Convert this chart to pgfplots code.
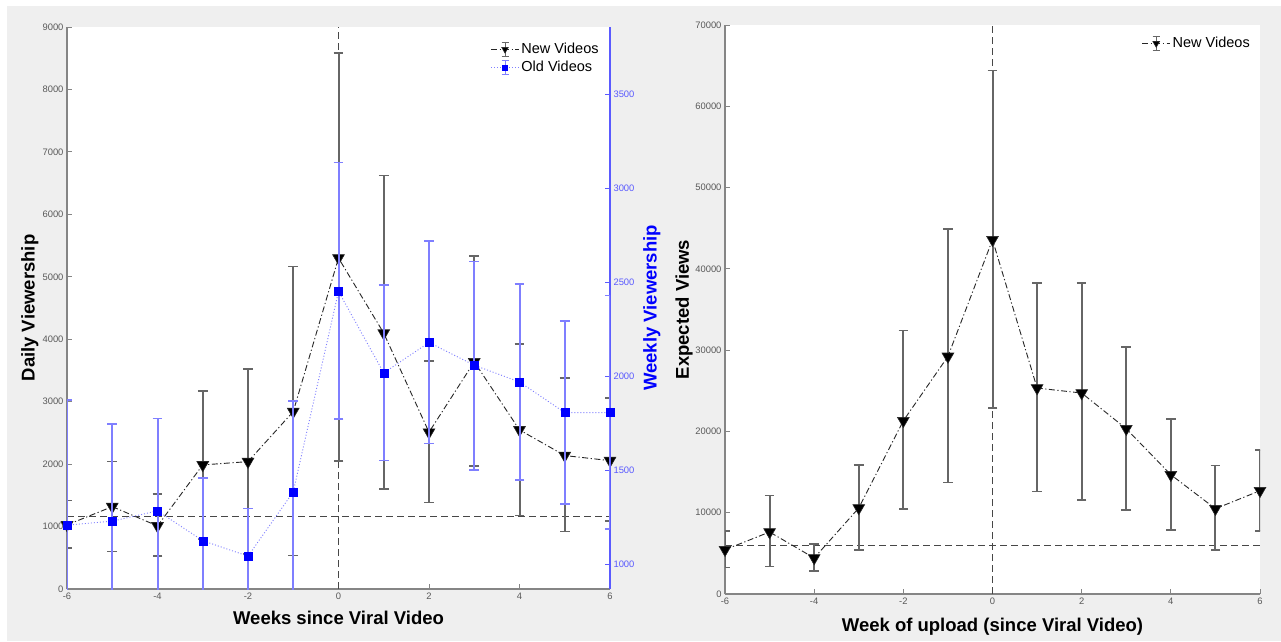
\documentclass[border=0pt]{standalone}
\usepackage{fontspec}
\setmainfont{Liberation Sans}
\usepackage{pgfplots}
\pgfplotsset{compat=1.18}
\usepackage{pgfplotstable}

\definecolor{bg}{HTML}{EFEFEF}
\definecolor{axgray}{HTML}{858585}
\definecolor{ebgray}{HTML}{666666}
\definecolor{lblue}{HTML}{7F7FFF}
\definecolor{tblue}{HTML}{5A5AFF}

% new videos, daily viewership (left axis)
\pgfplotstableread{
x  y    ep   em
-6 1026 389  374
-5 1319 721  721
-4 1010 512  481
-3 1987 1186 1186
-2 2040 1481 1481
-1 2841 2324 2307
0  5300 3285 3249
1  4097 2522 2499
2  2511 1143 1128
3  3638 1699 1667
4  2548 1378 1373
5  2137 1239 1219
6  2056 1000 966
}\newdaily

% old videos, weekly viewership (right axis)
\pgfplotstableread{
x  y    ep  em
-6 1209 665 665
-5 1230 516 516
-4 1285 492 492
-3 1126 335 335
-2 1044 254 254
-1 1386 484 550
0  2453 685 680
1  2019 467 466
2  2181 539 537
3  2060 553 558
4  1971 520 523
5  1808 488 487
6  1808 623 620
}\oldweekly

% expected views by week of upload
\pgfplotstableread{
x  y     ep    em
-6 5449  2337  2174
-5 7626  4502  4228
-4 4428  1759  1562
-3 10578 5326  5129
-2 21316 11107 10861
-1 29225 15670 15498
0  43579 20825 20701
1  25338 12915 12718
2  24723 13530 13124
3  20332 10049 9963
4  14674 6851  6765
5  10492 5326  5043
6  12706 5043  4920
}\expviews

\tikzset{
  newv/.style={black!85, line width=0.9pt,
    dash pattern=on 6pt off 2.5pt on 1.2pt off 2.5pt,
    mark=triangle*, mark size=6.8pt,
    mark options={solid, rotate=180, fill=black, line width=0.6pt}},
  oldv/.style={lblue, line width=0.9pt, dash pattern=on 1pt off 2pt,
    mark=square*, mark size=4pt,
    mark options={solid, fill=blue, draw=blue, line width=0.4pt}},
  refl/.style={black!72, line width=1.5pt, dash pattern=on 7pt off 4pt},
}

\pgfplotsset{
  panel/.style={
    scale only axis, anchor=south west,
    xmin=-6, xmax=6, xtick={-6,-4,...,6},
    axis x line*=bottom, axis y line*=left,
    axis line style={-, axgray, line width=1.2pt},
    tick align=inside, major tick length=5pt,
    tick style={axgray, line width=1pt},
    tick label style={font=\fontsize{9.4}{11}\selectfont, text=black!65},
    /pgf/number format/assume math mode=true,
    /pgf/number format/1000 sep={},
    scaled y ticks=false,
    label style={font=\fontsize{18.5}{22}\selectfont\bfseries, inner sep=0pt},
  },
  blackbars/.style={error bars/.cd, y dir=both, y explicit,
    error bar style={solid, ebgray, line width=2pt},
    error mark options={solid, rotate=90, ebgray, line width=1.6pt, mark size=4.8pt}},
  bluebars/.style={error bars/.cd, y dir=both, y explicit,
    error bar style={solid, lblue, line width=2pt},
    error mark options={solid, rotate=90, lblue, line width=1.6pt, mark size=4.8pt}},
}

\begin{document}
\begin{tikzpicture}
\useasboundingbox (0pt,0pt) rectangle (1281pt,641pt);
\fill[white] (0pt,0pt) rectangle (1281pt,641pt);
\fill[bg] (7pt,0pt) rectangle (1281pt,635pt);

% ---------- left panel, daily viewership ----------
\begin{axis}[panel,
  at={(67pt,52pt)}, width=543pt, height=562pt,
  ymin=0, ymax=9000, ytick={0,1000,...,9000},
  axis background/.style={fill=white},
  xlabel={Weeks since Viral Video},
  ylabel={Daily Viewership},
  xlabel style={at={(axis description cs:0.5,-0.039)}, anchor=north},
  ylabel style={at={(axis description cs:-0.052,0.5)}, anchor=south},
]
\addplot[refl, forget plot] coordinates {(-6,1159) (6,1159)};
\addplot[refl, forget plot] coordinates {(0,0) (0,9000)};
\addplot[newv, forget plot, blackbars]
  table[x=x, y=y, y error plus=ep, y error minus=em] {\newdaily};
\end{axis}

% ---------- left panel, weekly viewership (right axis) ----------
\begin{axis}[panel,
  at={(67pt,52pt)}, width=543pt, height=562pt,
  ymin=869, ymax=3860, ytick={1000,1500,...,3500},
  axis x line=none, axis y line*=right,
  axis line style={-, tblue, line width=1.2pt},
  tick style={tblue, line width=1pt},
  yticklabel style={text=tblue},
  ylabel={Weekly Viewership},
  ylabel style={text=blue, at={(axis description cs:1.0608,0.5)}, anchor=north},
  legend style={at={(axis description cs:0.983,0.975)}, anchor=north east,
    draw=none, fill=none, inner sep=0pt, row sep=2pt,
    font=\fontsize{14.5}{17}\selectfont},
  legend cell align=left,
]
\addlegendimage{legend image code/.code={
  \draw[ebgray, line width=1pt] (14pt,-7pt)--(14pt,7pt)
    (10.5pt,-7pt)--(17.5pt,-7pt) (10.5pt,7pt)--(17.5pt,7pt);
  \draw[newv, mark size=3.8pt, mark repeat=2, mark phase=2]
    plot coordinates {(0pt,0pt) (14pt,0pt) (28pt,0pt)};}}
\addlegendentry{New Videos}
\addlegendimage{legend image code/.code={
  \draw[lblue, line width=1pt] (14pt,-7pt)--(14pt,7pt)
    (10.5pt,-7pt)--(17.5pt,-7pt) (10.5pt,7pt)--(17.5pt,7pt);
  \draw[oldv, mark size=2.5pt, mark repeat=2, mark phase=2]
    plot coordinates {(0pt,0pt) (14pt,0pt) (28pt,0pt)};}}
\addlegendentry{Old Videos}
\addplot[oldv, forget plot, bluebars]
  table[x=x, y=y, y error plus=ep, y error minus=em] {\oldweekly};
\end{axis}

% ---------- right panel, expected views ----------
\begin{axis}[panel,
  at={(725pt,47pt)}, width=535pt, height=569pt,
  ymin=0, ymax=70000, ytick={0,10000,...,70000},
  axis background/.style={fill=white},
  xlabel={Week of upload (since Viral Video)},
  ylabel={Expected Views},
  xlabel style={at={(axis description cs:0.5,-0.042)}, anchor=north},
  ylabel style={at={(axis description cs:-0.060,0.5)}, anchor=south},
  legend style={at={(axis description cs:0.985,0.982)}, anchor=north east,
    draw=none, fill=none, inner sep=0pt,
    font=\fontsize{14.5}{17}\selectfont},
  legend cell align=left,
]
\addlegendimage{legend image code/.code={
  \draw[ebgray, line width=1pt] (14pt,-7pt)--(14pt,7pt)
    (10.5pt,-7pt)--(17.5pt,-7pt) (10.5pt,7pt)--(17.5pt,7pt);
  \draw[newv, mark size=3.8pt, mark repeat=2, mark phase=2]
    plot coordinates {(0pt,0pt) (14pt,0pt) (28pt,0pt)};}}
\addlegendentry{New Videos}
\addplot[refl, forget plot] coordinates {(-6,5950) (6,5950)};
\addplot[refl, line width=1pt, forget plot] coordinates {(0,0) (0,70000)};
\addplot[newv, forget plot, blackbars]
  table[x=x, y=y, y error plus=ep, y error minus=em] {\expviews};
\end{axis}
\end{tikzpicture}
\end{document}
